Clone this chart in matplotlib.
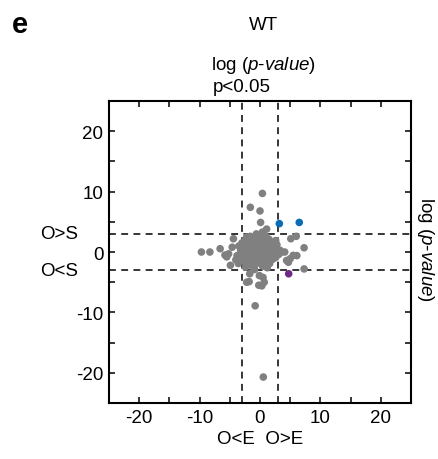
import matplotlib.pyplot as plt
from matplotlib.ticker import MultipleLocator

plt.rcParams['font.family'] = ['Liberation Sans', 'DejaVu Sans']
plt.rcParams['axes.unicode_minus'] = False
plt.rcParams['mathtext.fontset'] = 'custom'
plt.rcParams['mathtext.rm'] = 'Liberation Sans'
plt.rcParams['mathtext.it'] = 'Liberation Sans:italic'

# log(p-value) for O vs E (x) and O vs S (y)
gray_x = [0.4, -1.6, 0.0, 0.1, 1.1, 0.4, -4.4, -2.2, 5.1, 6.0, 7.3, -9.7, -8.3,
          -6.6, -5.2, -5.5, -4.9, 6.1, 5.0, 4.4, 7.3, 4.1, 3.3, -1.7, -1.8, 0.3,
          -0.8, -0.1, 0.7, -2.2, -0.2, 0.5, 0.55, 3.6, 4.7, 5.5,
          -3.5, -3.0, -2.6, -2.0, -1.5, -1.0, -0.5, 0.0, 0.5, 1.0, 1.5, 2.0, 2.4,
          -3.2, -2.7, -2.2, -1.7, -1.2, -0.7, -0.2, 0.3, 0.8, 1.3, 1.8, 2.2,
          -3.8, -3.3, -2.8, -2.3, -1.8, -1.3, -0.8, -0.3, 0.2, 0.7, 1.2, 1.7,
          -2.5, -2.0, -1.4, -0.9, -0.4, 0.1, 0.6, 1.1, 1.6, 2.1, 2.6,
          -4.0, -1.1, 0.9, 1.9, -0.6, 0.4, 2.8, -5.8, -4.6, 3.0, 1.4, -0.2,
          -3.6, -2.4, -1.6, 2.6, 3.1, -0.9,
          -2.9, -2.1, -1.3, -0.6, 0.2, 1.0, 1.8, -2.6, -1.9, -1.0, -0.1, 0.6,
          1.4, 2.3, -3.0, -2.2, -1.5, -0.7, 0.0, 0.8, 1.6, -1.2, 0.4, 1.2]
gray_y = [9.7, 7.4, 6.8, 4.9, 3.8, 3.3, 2.2, 2.5, 2.2, 2.6, 0.7, 0.0, 0.0,
          0.55, -0.3, -0.8, -2.2, -0.6, -1.1, -1.4, -2.8, 0.0, 0.3, -3.6, -4.9, -5.6,
          -8.9, -3.9, -5.0, -5.0, -5.5, -4.2, -20.7, 0.0, -1.7, -0.55,
          1.0, 1.5, 1.8, 2.0, 1.6, 2.2, 1.9, 2.4, 2.0, 2.6, 2.1, 1.5, 0.9,
          0.2, 0.5, 0.6, 0.8, 0.4, 0.9, 0.7, 1.1, 0.6, 0.9, 0.3, 0.5,
          -0.6, -0.4, -0.9, -0.5, -0.2, -0.7, -0.3, -0.6, -0.1, -0.5, -0.2, -0.8,
          -1.6, -2.0, -1.4, -2.2, -1.8, -1.3, -2.1, -1.5, -1.9, -1.2, -0.9,
          -1.3, -2.6, -2.4, 0.0, 3.0, 2.9, 1.2, -0.5, 0.8, -0.2, -0.6, -1.0,
          -1.9, -2.5, 2.6, 1.9, -0.4, -2.9,
          1.2, 1.3, 1.2, 1.4, 1.5, 1.4, 1.0, -0.1, 0.0, 0.1, 0.2, 0.0,
          0.1, 0.0, -1.1, -1.0, -1.1, -1.0, -1.2, -1.0, -1.1, -2.4, -2.3, -2.6]
blue_x = [3.2, 6.5]
blue_y = [4.7, 4.9]
purple_x = [4.75]
purple_y = [-3.6]

fig = plt.figure(figsize=(4.39, 4.60), dpi=100)
ax = fig.add_axes([0.2483, 0.1217, 0.6879, 0.6565])

# significance cut-offs
for v in (-3, 3):
    ax.axvline(v, color='black', lw=1.1, ls=(0, (4.5, 3.5)), zorder=1)
    ax.axhline(v, color='black', lw=1.1, ls=(0, (4.5, 3.5)), zorder=1)

ax.scatter(gray_x, gray_y, s=30, color='#808080', edgecolors='none', zorder=2)
ax.scatter(blue_x, blue_y, s=30, color='#0a6cb5', edgecolors='none', zorder=3)
ax.scatter(purple_x, purple_y, s=30, color='#6f2a86', edgecolors='none', zorder=3)

ax.set_xlim(-25, 25)
ax.set_ylim(-25, 25)
ax.xaxis.set_minor_locator(MultipleLocator(5))
ax.yaxis.set_minor_locator(MultipleLocator(5))
ax.set_xticks([-20, -10, 0, 10, 20])
ax.set_yticks([-20, -10, 0, 10, 20])
ax.tick_params(which='both', direction='in', top=True, right=True,
               length=4, width=1.1, labelsize=13.5, pad=4)
for sp in ax.spines.values():
    sp.set_linewidth(1.5)

ax.set_xlabel('O<E  O>E', fontsize=13.5, labelpad=3)

ax.text(-0.165, 3, 'O>S', transform=ax.get_yaxis_transform(), ha='center',
        va='center', fontsize=13.5)
ax.text(-0.165, -3, 'O<S', transform=ax.get_yaxis_transform(), ha='center',
        va='center', fontsize=13.5)

fig.text(0.046, 0.945, 'e', fontsize=21, fontweight='bold', ha='center', va='center')
fig.text(0.6, 0.945, 'WT', fontsize=13.5, ha='center', va='center')
fig.text(0.6, 0.858, 'log ($\\it{p}$-$\\it{value}$)', fontsize=13.5,
         ha='center', va='center')
fig.text(0.551, 0.81, 'p<0.05', fontsize=13.5, ha='center', va='center')
fig.text(0.970, 0.457, 'log ($\\it{p}$-$\\it{value}$)', fontsize=13.5,
         ha='center', va='center', rotation=270)

fig.savefig('out.png', dpi=100)
